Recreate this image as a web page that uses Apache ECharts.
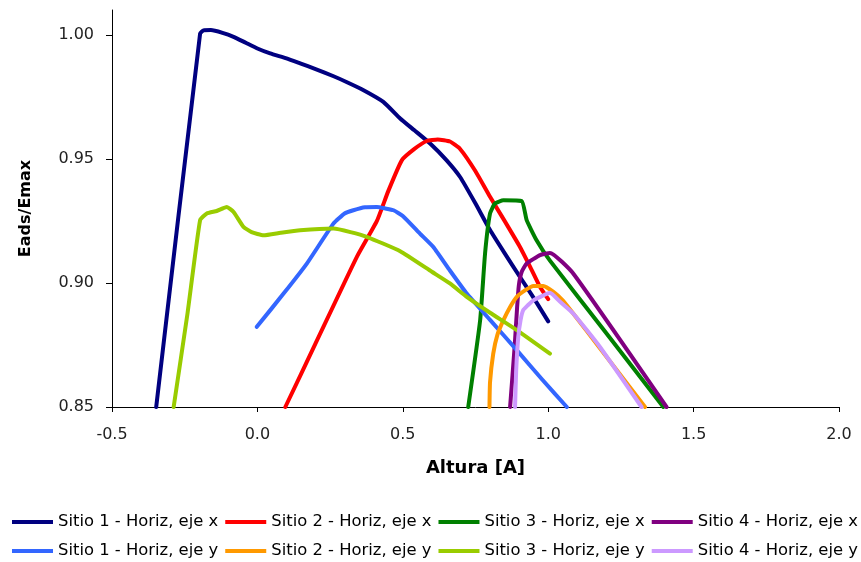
<!DOCTYPE html>
<html>
<head>
<meta charset="utf-8">
<script src="https://cdn.jsdelivr.net/npm/echarts@6/dist/echarts.min.js"></script>
<style>
html,body{margin:0;padding:0;background:#fff;}
#chart{width:861px;height:562px;}
</style>
</head>
<body>
<div id="chart"></div>
<script>
const seriesNames = [
  'Sitio 1 - Horiz, eje x','Sitio 2 - Horiz, eje x','Sitio 3 - Horiz, eje x','Sitio 4 - Horiz, eje x',
  'Sitio 1 - Horiz, eje y','Sitio 2 - Horiz, eje y','Sitio 3 - Horiz, eje y','Sitio 4 - Horiz, eje y'
];
const xTickLabels = ['-0.5','0.0','0.5','1.0','1.5','2.0'];
const yTickLabels = ['0.85','0.90','0.95','1.00'];

const sitio1X = [[-0.348,0.85],[-0.197,1.0005],[-0.185,1.0018],[-0.16,1.0019],[-0.12,1.0008],[-0.082,0.9992],[-0.04,0.9968],[0.0,0.9945],[0.044,0.9925],[0.10,0.9905],[0.147,0.9885],[0.20,0.9862],[0.262,0.9833],[0.31,0.9808],[0.365,0.9777],[0.433,0.973],[0.491,0.9663],[0.54,0.9615],[0.594,0.9562],[0.65,0.9495],[0.697,0.9427],[0.75,0.932],[0.80,0.9213],[0.85,0.912],[0.903,0.9024],[0.95,0.894],[1.0,0.8845]];
const sitio2X = [[0.096,0.85],[0.20,0.8756],[0.342,0.9105],[0.411,0.925],[0.45,0.937],[0.497,0.9495],[0.54,0.954],[0.582,0.9572],[0.62,0.9578],[0.662,0.957],[0.697,0.954],[0.75,0.945],[0.80,0.9347],[0.85,0.925],[0.903,0.9145],[0.94,0.906],[0.972,0.8984],[1.0,0.8935]];
const sitio3X = [[0.725,0.85],[0.766,0.885],[0.783,0.912],[0.800,0.928],[0.817,0.932],[0.846,0.9333],[0.909,0.933],[0.926,0.9253],[0.96,0.9172],[1.006,0.909],[1.2,0.8797],[1.396,0.85]];
const sitio4X = [[0.869,0.85],[0.885,0.875],[0.893,0.89],[0.899,0.899],[0.909,0.9045],[0.926,0.9078],[0.972,0.9112],[1.006,0.9121],[1.086,0.9038],[1.407,0.85]];
const sitio1Y = [[-0.002,0.8823],[0.09,0.8957],[0.17,0.9078],[0.262,0.924],[0.30,0.928],[0.33,0.9293],[0.37,0.9305],[0.411,0.9306],[0.44,0.93],[0.468,0.9293],[0.50,0.927],[0.559,0.9199],[0.605,0.9145],[0.662,0.905],[0.720,0.8957],[0.80,0.8851],[0.892,0.8729],[0.98,0.861],[1.064,0.85]];
const sitio2Y = [[0.798,0.85],[0.80,0.86],[0.811,0.8715],[0.825,0.879],[0.846,0.885],[0.87,0.8905],[0.892,0.8944],[0.92,0.897],[0.949,0.8988],[0.983,0.8988],[1.018,0.8964],[1.05,0.893],[1.086,0.8877],[1.178,0.8737],[1.333,0.85]];
const sitio3Y = [[-0.288,0.85],[-0.24,0.888],[-0.197,0.9253],[-0.174,0.928],[-0.14,0.929],[-0.105,0.9306],[-0.082,0.9286],[-0.048,0.9226],[-0.02,0.9205],[0.021,0.9192],[0.08,0.9202],[0.147,0.9212],[0.262,0.9219],[0.32,0.9205],[0.376,0.9186],[0.491,0.9128],[0.60,0.9045],[0.662,0.8998],[0.720,0.8944],[0.80,0.888],[0.892,0.881],[1.006,0.8715]];
const sitio4Y = [[0.886,0.85],[0.89,0.865],[0.897,0.8782],[0.905,0.885],[0.914,0.889],[0.93,0.891],[0.949,0.893],[0.98,0.8948],[1.006,0.896],[1.04,0.8925],[1.086,0.8877],[1.178,0.8742],[1.321,0.85]];

const seriesData = [sitio1X, sitio2X, sitio3X, sitio4X, sitio1Y, sitio2Y, sitio3Y, sitio4Y];
const colors = ['#000080','#FF0000','#008000','#800080','#3366FF','#FF9900','#99CC00','#CC99FF'];

const FONT = 'DejaVu Sans';
const chart = echarts.init(document.getElementById('chart'), null, {renderer:'canvas'});

const legendCommon = {
  orient: 'horizontal',
  left: 12,
  padding: 0,
  itemWidth: 41,
  itemHeight: 4,
  itemGap: 7,
  icon: 'rect',
  textStyle: {fontFamily: FONT, fontSize: 16.4, color: '#000'},
  selectedMode: false
};

chart.setOption({
  animation: false,
  backgroundColor: '#fff',
  color: colors,
  grid: {left: 112, right: 22, top: 10, bottom: 155, containLabel: false},
  legend: [
    Object.assign({}, legendCommon, {top: 514, data: seriesNames.slice(0,4)}),
    Object.assign({}, legendCommon, {top: 543, data: seriesNames.slice(4,8)})
  ],
  xAxis: {
    type: 'value', min: -0.5, max: 2.0, interval: 0.5,
    name: 'Altura [A]', nameLocation: 'middle', nameGap: 52,
    nameTextStyle: {fontFamily: FONT, fontSize: 18, fontWeight: 'bold', color: '#000'},
    axisLine: {show: true, onZero: false, lineStyle: {color: '#000', width: 1}},
    axisTick: {show: true, inside: false, length: 5, lineStyle: {color: '#000'}},
    axisLabel: {fontFamily: FONT, fontSize: 16, color: '#222', margin: 20,
      formatter: v => { const i = Math.round((v + 0.5) / 0.5); return xTickLabels[i] !== undefined ? xTickLabels[i] : ''; }},
    splitLine: {show: false}
  },
  yAxis: {
    type: 'value', min: 0.85, max: 1.01, interval: 0.05,
    name: 'Eads/Emax', nameLocation: 'middle', nameGap: 78, nameRotate: 90,
    nameTextStyle: {fontFamily: FONT, fontSize: 16, fontWeight: 'bold', color: '#000'},
    axisLine: {show: true, onZero: false, lineStyle: {color: '#000', width: 1}},
    axisTick: {show: true, inside: false, length: 6, lineStyle: {color: '#000'}, customValues: [0.85,0.90,0.95,1.00]},
    axisLabel: {fontFamily: FONT, fontSize: 16, color: '#222', margin: 18,
      customValues: [0.85,0.90,0.95,1.00],
      formatter: v => { const i = Math.round((v - 0.85) / 0.05); return yTickLabels[i] !== undefined ? yTickLabels[i] : ''; }},
    splitLine: {show: false}
  },
  series: seriesNames.map((name, i) => ({
    name: name,
    type: 'line',
    data: seriesData[i],
    symbol: 'none',
    smooth: 0.15,
    clip: true,
    lineStyle: {width: 4, color: colors[i], cap: 'round', join: 'round'},
    itemStyle: {color: colors[i]},
    emphasis: {disabled: true}
  }))
});
</script>
</body>
</html>
